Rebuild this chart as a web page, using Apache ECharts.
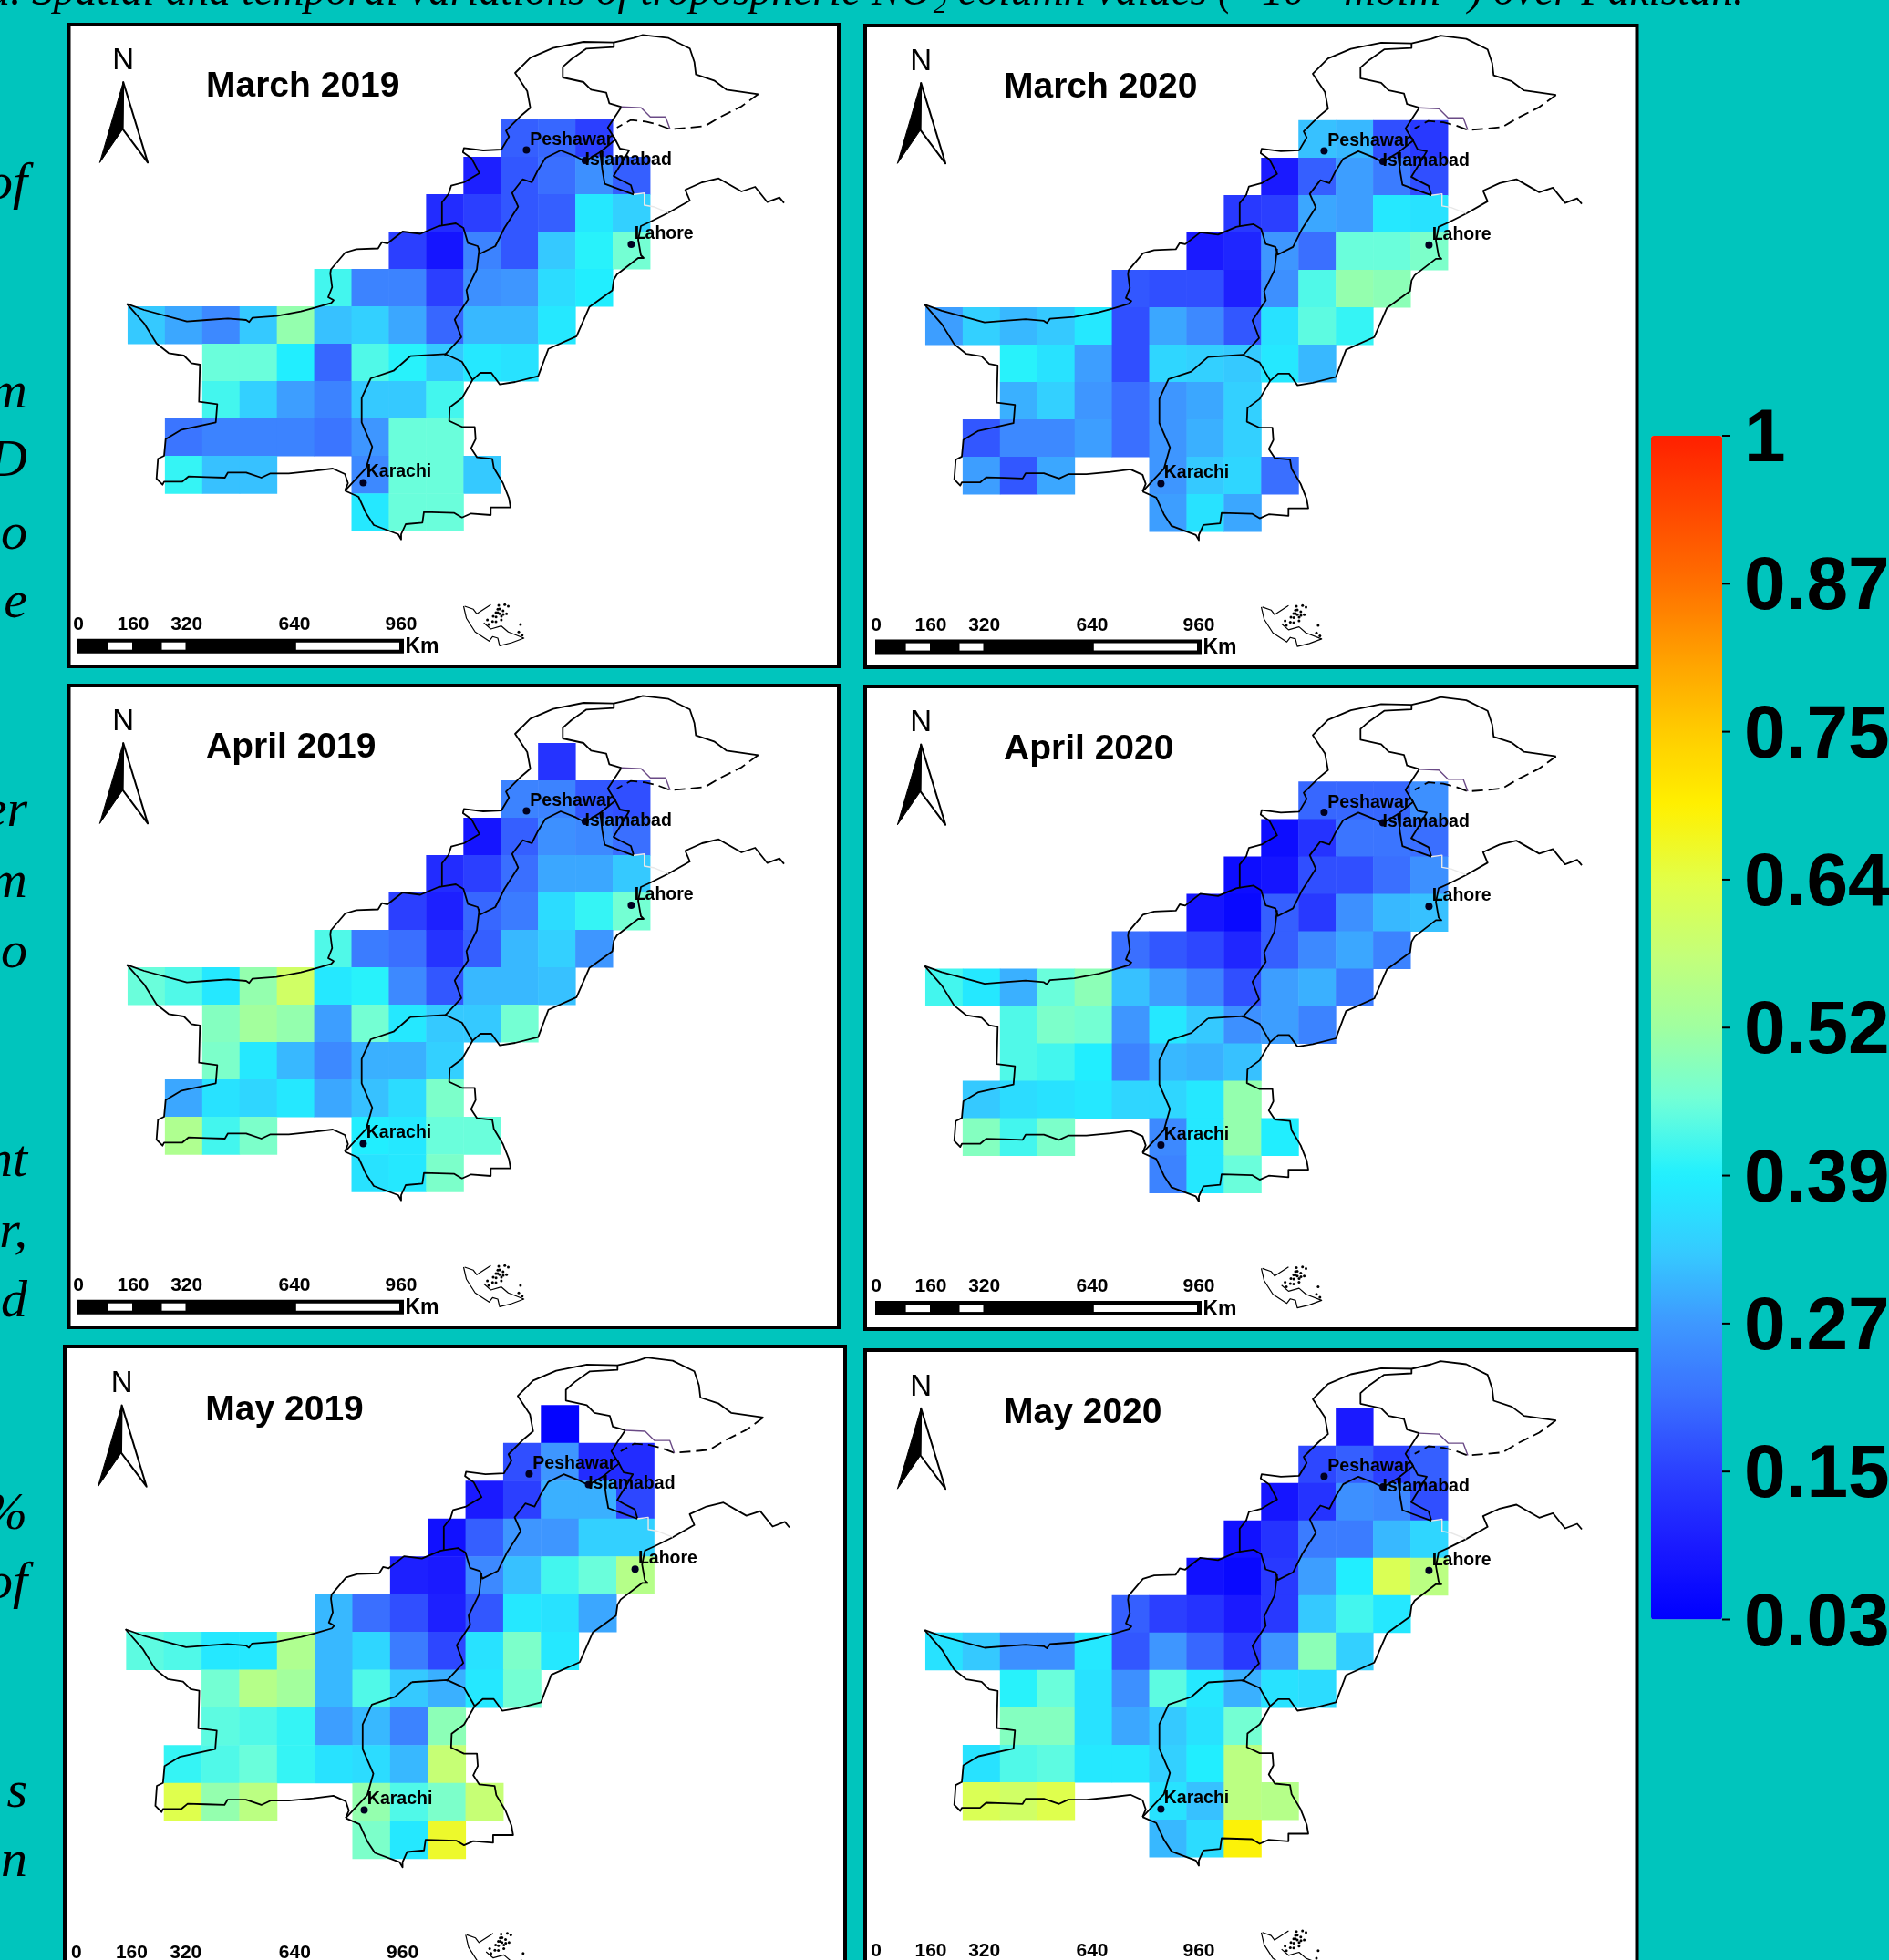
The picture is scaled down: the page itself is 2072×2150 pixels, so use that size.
<!DOCTYPE html>
<html><head><meta charset="utf-8">
<style>html,body{margin:0;padding:0;background:#00C5BD}#c{width:2072px;height:2150px}</style>
<script src="https://cdn.jsdelivr.net/npm/echarts@6/dist/echarts.min.js"></script>
</head><body><div id="c"></div>
<script>
const _ = null;
const columns = ['c0','c1','c2','c3','c4','c5','c6','c7','c8','c9','c10','c11','c12','c13'];
const rowNames = ['r0','r1','r2','r3','r4','r5','r6','r7','r8','r9','r10','r11'];
const panelTitles = ['March 2019','March 2020','April 2019','April 2020','May 2019','May 2020'];
const tickLabels = ['0.03','0.15','0.27','0.39','0.52','0.64','0.75','0.87','1'];

const march2019 = [
[_,_,_,_,_,_,_,_,_,_,_,_,_,_],
[_,_,_,_,_,_,_,_,_,_,.19,.20,.15,_],
[_,_,_,_,_,_,_,_,_,.10,.18,.21,.26,.19],
[_,_,_,_,_,_,_,_,.12,.15,.18,.19,.38,.34],
[_,_,_,_,_,_,_,.15,.08,.24,.18,.33,.40,.46],
[_,_,_,_,_,.42,.24,.24,.15,.26,.27,.36,.39,_],
[.33,.29,.25,.33,.50,.32,.34,.29,.20,.31,.31,.38,_,_],
[_,_,.45,.45,.39,.20,.43,.40,.33,.38,.37,_,_,_],
[_,_,.42,.34,.28,.24,.33,.33,.42,_,_,_,_,_],
[_,.22,.24,.24,.24,.22,.27,.45,.45,_,_,_,_,_],
[_,.41,.32,.32,_,_,.25,.45,.45,.33,_,_,_,_],
[_,_,_,_,_,_,.38,.45,.45,_,_,_,_,_]];
const march2020 = [
[_,_,_,_,_,_,_,_,_,_,_,_,_,_],
[_,_,_,_,_,_,_,_,_,_,.32,.31,.17,.14],
[_,_,_,_,_,_,_,_,_,.09,.19,.28,.23,.17],
[_,_,_,_,_,_,_,_,.14,.15,.29,.28,.38,.37],
[_,_,_,_,_,_,_,.09,.11,.27,.21,.45,.45,.47],
[_,_,_,_,_,.18,.17,.17,.10,.26,.43,.50,.49,_],
[.28,.34,.31,.33,.38,.17,.29,.25,.18,.37,.44,.41,_,_],
[_,_,.40,.37,.28,.17,.35,.34,.33,.38,.31,_,_,_],
[_,_,.30,.34,.27,.21,.27,.29,.34,_,_,_,_,_],
[_,.18,.25,.25,.28,.21,.27,.30,.34,_,_,_,_,_],
[_,.28,.18,.29,_,_,.27,.33,.35,.21,_,_,_,_],
[_,_,_,_,_,_,.28,.37,.29,_,_,_,_,_]];
const april2019 = [
[_,_,_,_,_,_,_,_,_,_,_,.13,_,_],
[_,_,_,_,_,_,_,_,_,_,.24,.24,.18,.17],
[_,_,_,_,_,_,_,_,_,.08,.19,.26,.25,.21],
[_,_,_,_,_,_,_,_,.12,.15,.21,.29,.29,.33],
[_,_,_,_,_,_,_,.15,.10,.20,.23,.36,.41,.46],
[_,_,_,_,_,.43,.23,.21,.13,.19,.31,.34,.27,_],
[.45,.43,.38,.50,.60,.38,.40,.25,.18,.31,.31,.32,_,_],
[_,_,.48,.52,.50,.28,.46,.38,.33,.33,.46,_,_,_],
[_,_,.47,.38,.31,.25,.30,.30,.34,_,_,_,_,_],
[_,.29,.37,.35,.38,.29,.32,.36,.47,_,_,_,_,_],
[_,.54,.42,.47,_,_,.39,.38,.45,.45,_,_,_,_],
[_,_,_,_,_,_,.37,.38,.47,_,_,_,_,_]];
const april2020 = [
[_,_,_,_,_,_,_,_,_,_,_,_,_,_],
[_,_,_,_,_,_,_,_,_,_,.20,.20,.20,.26],
[_,_,_,_,_,_,_,_,_,.06,.13,.22,.22,.21],
[_,_,_,_,_,_,_,_,.06,.08,.17,.17,.21,.26],
[_,_,_,_,_,_,_,.08,.05,.19,.14,.26,.31,.32],
[_,_,_,_,_,.21,.18,.16,.11,.19,.25,.29,.24,_],
[.42,.38,.30,.45,.49,.32,.28,.24,.17,.28,.30,.23,_,_],
[_,_,.43,.47,.46,.27,.38,.33,.26,.28,.24,_,_,_],
[_,_,.43,.42,.39,.24,.31,.30,.32,_,_,_,_,_],
[_,.33,.36,.37,.38,.35,.35,.38,.50,_,_,_,_,_],
[_,.48,.42,.47,_,_,.25,.38,.50,.39,_,_,_,_],
[_,_,_,_,_,_,.24,.38,.45,_,_,_,_,_]];
const may2019 = [
[_,_,_,_,_,_,_,_,_,_,_,.04,_,_],
[_,_,_,_,_,_,_,_,_,_,.17,.27,.12,.12],
[_,_,_,_,_,_,_,_,_,.09,.15,.30,.30,.16],
[_,_,_,_,_,_,_,_,.07,.19,.27,.27,.34,.34],
[_,_,_,_,_,_,_,.10,.09,.25,.32,.42,.45,.55],
[_,_,_,_,_,.31,.21,.17,.10,.18,.38,.37,.29,_],
[.44,.43,.38,.38,.54,.31,.35,.23,.16,.37,.47,.38,_,_],
[_,_,.46,.55,.52,.31,.43,.33,.30,.38,.46,_,_,_],
[_,_,.44,.43,.41,.28,.31,.24,.49,_,_,_,_,_],
[_,.41,.43,.45,.41,.37,.36,.31,.58,_,_,_,_,_],
[_,.63,.50,.56,_,_,.50,.43,.47,.58,_,_,_,_],
[_,_,_,_,_,_,.47,.38,.66,_,_,_,_,_]];
const may2020 = [
[_,_,_,_,_,_,_,_,_,_,_,.09,_,_],
[_,_,_,_,_,_,_,_,_,_,.16,.19,.15,.19],
[_,_,_,_,_,_,_,_,_,.08,.13,.26,.25,.17],
[_,_,_,_,_,_,_,_,.07,.13,.23,.23,.31,.35],
[_,_,_,_,_,_,_,.07,.05,.14,.28,.39,.62,.56],
[_,_,_,_,_,.19,.15,.13,.09,.14,.33,.42,.38,_],
[.37,.33,.26,.26,.38,.18,.27,.20,.14,.27,.49,.34,_,_],
[_,_,.40,.45,.37,.26,.44,.38,.30,.37,.36,_,_,_],
[_,_,.48,.48,.37,.29,.33,.37,.46,_,_,_,_,_],
[_,.37,.43,.44,.38,.38,.34,.39,.56,_,_,_,_,_],
[_,.62,.60,.63,_,_,.37,.32,.56,.55,_,_,_,_],
[_,_,_,_,_,_,.31,.36,.69,_,_,_,_,_]];
const panelValues = [march2019,march2020,april2019,april2020,may2019,may2020];

const colorStops = ['#0000FF','#1A1AFF','#2B40FF','#3A70FF','#3E98FF','#35CCFF','#20F0FF','#70FFD8','#A0FFA0','#C4FF78','#E2FF48','#FFF000','#FFCC00','#FFA000','#FF7000','#FF4800','#FF2000'];

// map outline, in map units
const northBorder = [[139.3,333.3],[158,340],[205,352.7],[226.7,351],[250,349.3],[270,351],[273.3,353.3],[276.7,348.7],[303.3,346.7],[330,341.7],[345,337.7],[363.3,332.3],[366,329.3],[360,326],[364.3,315],[362.3,300],[363,295.5],[378.7,277],[391,273.4],[414.7,272.5],[419,265.6],[425,267],[441.6,254],[461,256.5],[481,248],[484.8,247.3],[484.8,222],[492,212.8],[494.9,203.7],[508.9,200],[525.8,189.9],[517.3,173.8],[507.8,167],[508.9,162.3],[530,165],[550,164],[558.3,150],[555,143.3],[571.7,126.7],[581.7,118.3],[578.3,100],[565,80],[581.7,63.3],[606.7,52.7],[640,46],[673.3,46.7],[695,41.7],[705,38.3],[733.3,41.7],[756.7,53.3],[761.7,68.3],[763.3,81.7],[783.3,88.3],[796.7,98.3],[831.7,103.3]];
const gilgitLine = [[673.3,46.7],[673.3,51.7],[643.3,53.3],[626.7,65],[617.3,73.3],[617.3,85],[640,90],[648.3,98.3],[665,101.7],[668.3,113.3],[681.7,117.3]];
const kashmirWest = [[681.7,117.3],[673.3,130],[666.7,140],[675,153.3],[658.3,166.7],[660.7,186.7],[663.3,201.7],[676.7,206.7],[695,213.3]];
const kashmirInner = [[673.3,150],[680,163],[690,165],[683,177],[673,193],[680,197],[692,203],[695,213]];
const kpBorder = [[658.3,166.7],[641.7,176.7],[631.7,171.7],[615,165],[598.3,173.3],[590,186.7],[583.3,200],[573.3,196.7],[561.7,211.7],[568.3,226.7],[553.3,250],[543.3,270],[526.7,278.3],[524,270],[513.3,266.7],[508.3,250],[500,245],[484.8,247.3]];
const punjabWest = [[525.8,272],[523,295.5],[511.7,318.4],[513.4,328.5],[498.8,350.6],[506,369.9],[487.6,389.6]];
const sindhNorth = [[450,390.7],[488.3,388.3],[506.7,396.7],[518.3,416.7]];
const sindhWest = [[450,390.7],[431.7,406.7],[406.7,415],[396.7,436.7],[396.7,463.3],[408.3,490],[401.7,513.3],[378.3,538.3]];
const eastBorder = [[378.3,538.3],[393.3,545],[401.7,563.3],[410,576],[436.7,586],[440,591.7],[440,586],[445,575],[463.3,573.3],[465,561.7],[498.3,562.7],[506.7,567.7],[516.7,563.3],[538.3,565],[538.3,556.7],[560,556.7],[558.3,546.7],[551.7,530],[541.7,513.3],[540,503.3],[523.3,501.7],[516.7,491.7],[521.7,481.7],[520.7,468.3],[506.7,468.3],[492.7,461.7],[493.3,446.7],[506.7,436.7],[518.3,416.7],[527,409],[539,409],[548.2,421.7],[565,419],[590.3,412.6],[601.5,382.7],[632.4,368.9],[646.4,336.8],[671.7,318.4],[673.3,306.7],[676.7,301],[700,283],[706,283],[703,280],[700,263],[703,248],[713.3,243.3],[733.3,233.3],[756.7,220],[751.7,208.3],[770,200],[788.3,195.7],[813.3,210],[828.3,205],[841.7,221.7],[855,216.7],[860,222.7]];
const westCoast = [[378.3,538.3],[381.7,530],[378.3,520],[365,514],[343.3,516.7],[316.7,519.3],[296.7,519.3],[286.7,524],[270,518.3],[250,518.3],[246.7,524],[226.7,523.3],[206.7,522.7],[200,528.3],[180,528.3],[178.3,531.7],[171.7,525],[173.3,503.3],[180,500],[181.7,481.7],[198.3,471.7],[236.7,463.3],[238.3,443.3],[218.3,440.7],[219.3,400],[210,398.3],[201.7,390],[185,387.3],[171.7,376.7],[158.3,355],[139.3,333.3]];
const ceasefireDashed = [[831.7,103.3],[813.3,116.7],[790,128.3],[773.3,138.3],[756.7,140],[735,141.7],[721.7,136.7],[708.3,133.3],[691.7,131.7],[676.7,140]];
const purpleLine = [[681.7,117.3],[703.3,118.3],[713.3,128.3],[730,128.3],[735,141.7]];
const workingBoundary = [[695,213.3],[706.7,211.7],[706.7,225],[716.7,226.7],[733.3,233.3]];
const insetOutline = [[508.5,665],[511.6,678.3],[521.2,693.3],[536.5,703.3],[540.3,698.3],[546,700],[548,708.3],[561.3,705],[574.7,700],[557.5,693.3],[549.9,686.7],[538.4,690],[530.7,683.3]];
const insetNorth = [[509.7,665],[519.2,668.3],[523,673.3],[530.7,668.3],[538.4,663.3]];
const insetDots = [[546,668.3],[548,673.3],[544.1,676.7],[551.8,670],[553.7,663.3],[555.6,673.3],[570.9,685],[572.8,696.7],[569,693.3],[540.3,681.7],[534.6,680],[549.9,680],[557.5,665],[546,672],[550,676],[548,668],[544,672],[541,676],[552,674],[547,664],[536,685],[544,682]];

// cities and labels, in map units
const cityDots = [[577.4,164.6],[641.9,176.1],[692.4,267.9],[398.4,529.6]];
const cityLabels = [[580.8,154,'Peshawar'],[641,175.5,'Islamabad'],[695.2,256.5,'Lahore'],[401.2,517.8,'Karachi']];
const titleAnchor = [225.5,95.5];
const northLetter = [135.2,67,'N'];
const northDark = [[135.2,90],[109.4,178.4],[134.6,141.7]];
const northLight = [[135.2,90],[162.1,178.4],[134.6,141.7]];
const scaleBarBlack = [[85,708.7],[443,708.7]];
const scaleBarWhite = [[[118.6,708.7],[145,708.7]],[[177.5,708.7],[203.5,708.7]],[[324.8,708.7],[438,708.7]]];
const scaleLabels = [[86,685,'0'],[146,685,'160'],[204.7,685,'320'],[323,685,'640'],[440,685,'960']];
const scaleUnit = [444,710,'Km'];

// panel placement
const frames = [[75.5,920,27,731],[949,1795.5,28,732],[75.5,920,752,1456],[949,1795.5,753,1458],[71,927,1477,2190],[949,1795.5,1481,2190]];
const offsets = [[0,0,1],[875,.9,1],[0,725,1],[875,726.4,1],[-3.07,1450.45,1.0105],[875,1454.8,1]];
const mapCell = {x0:140.2, x1:713.2, y0:90.2, y1:582.4};

const FONT = '"Liberation Sans"';
const grid=[], xAxis=[], yAxis=[], series=[], heatIdx=[];
function line(data, g, color, width, extra){
  series.push(Object.assign({type:'line',data:data,xAxisIndex:g,yAxisIndex:g,clip:false,symbol:'none',showSymbol:false,silent:true,z:4,
    animation:false,lineStyle:{color:color,width:width,cap:'butt',join:'round'}},extra||{}));
}
function textSeries(data, g, fs, bold, pos){
  series.push({type:'scatter',data:data,xAxisIndex:g,yAxisIndex:g,clip:false,symbolSize:1,silent:true,z:6,animation:false,
    itemStyle:{color:'rgba(0,0,0,0)',opacity:1},
    label:{show:true,position:pos,distance:0,color:'#000',opacity:1,fontFamily:FONT,fontSize:fs,fontWeight:bold?'bold':'normal',formatter:p=>p.data[2]}});
}
panelValues.forEach((vals,i)=>{
  const F=frames[i], O=offsets[i], s=O[2], g=i*2, h=i*2+1;
  grid.push({show:true,outerBoundsMode:'none',left:F[0],top:F[2],width:F[1]-F[0],height:F[3]-F[2],backgroundColor:'#fff',borderColor:'#000',borderWidth:4,containLabel:false});
  xAxis.push({type:'value',gridIndex:g,show:false,min:(F[0]-O[0])/s,max:(F[1]-O[0])/s});
  yAxis.push({type:'value',gridIndex:g,show:false,inverse:true,min:(F[2]-O[1])/s,max:(F[3]-O[1])/s});
  grid.push({show:false,outerBoundsMode:'none',left:O[0]+s*mapCell.x0,top:O[1]+s*mapCell.y0,width:s*(mapCell.x1-mapCell.x0),height:s*(mapCell.y1-mapCell.y0)});
  xAxis.push({type:'category',gridIndex:h,show:false,data:columns});
  yAxis.push({type:'category',gridIndex:h,show:false,inverse:true,data:rowNames});
  const cells=[];
  vals.forEach((row,r)=>row.forEach((v,c)=>{ if(v!==null) cells.push([c,r,v]); }));
  heatIdx.push(series.length);
  series.push({type:'heatmap',data:cells,xAxisIndex:h,yAxisIndex:h,silent:true,animation:false,progressive:0,z:2,itemStyle:{borderWidth:0}});
  [northBorder,gilgitLine,kashmirWest,kashmirInner,kpBorder,punjabWest,sindhNorth,sindhWest,eastBorder,westCoast].forEach(l=>line(l,g,'#000',1.8));
  line(ceasefireDashed,g,'#000',1.8,{lineStyle:{color:'#000',width:1.8,type:[12,6]}});
  line(purpleLine,g,'#6a4a86',1.4);
  line(workingBoundary,g,'#e8e8e8',1.4);
  line(insetOutline,g,'#000',1.2);
  line(insetNorth,g,'#000',1.2);
  series.push({type:'scatter',data:insetDots,xAxisIndex:g,yAxisIndex:g,clip:false,symbolSize:3,silent:true,z:5,animation:false,itemStyle:{color:'#000',opacity:1}});
  series.push({type:'scatter',data:cityDots,xAxisIndex:g,yAxisIndex:g,clip:false,symbolSize:8,silent:true,z:5,animation:false,itemStyle:{color:'#000020',opacity:1}});
  line(scaleBarBlack,g,'#000',16);
  scaleBarWhite.forEach(w=>line(w,g,'#fff',8,{z:5}));
  textSeries(cityLabels,g,19.5,true,'right');
  textSeries(scaleLabels,g,21,true,'inside');
  textSeries([scaleUnit],g,23,true,'right');
  textSeries([[titleAnchor[0],titleAnchor[1],panelTitles[i]]],g,39,true,'right');
  textSeries([northLetter],g,33,false,'inside');
  series.push({type:'custom',coordinateSystem:'cartesian2d',xAxisIndex:g,yAxisIndex:g,data:[[northDark[0][0],northDark[0][1]]],silent:true,z:5,animation:false,clip:false,
    renderItem:(p,api)=>({type:'group',children:[
      {type:'polygon',shape:{points:northLight.map(q=>api.coord(q))},style:{fill:'#fff',stroke:'#000',lineWidth:2,lineJoin:'round'}},
      {type:'polygon',shape:{points:northDark.map(q=>api.coord(q))},style:{fill:'#000',stroke:'#000',lineWidth:1,lineJoin:'round'}}
    ]})});
});
// colour bar axis and its tick marks (labels sit slightly below their ticks)
grid.push({show:false,outerBoundsMode:'none',left:1811,top:483.5,width:78,height:1298.5});
xAxis.push({type:'value',gridIndex:12,show:false,min:0,max:1});
yAxis.push({type:'category',gridIndex:12,position:'right',boundaryGap:false,data:tickLabels,
  axisLine:{show:false},axisTick:{show:false},splitLine:{show:false},
  axisLabel:{show:true,interval:0,margin:24,color:'#000',fontFamily:FONT,fontWeight:'bold',fontSize:82,align:'left',verticalAlign:'middle'}});
series.push({type:'scatter',data:tickLabels.map(t=>[1,t]),xAxisIndex:12,yAxisIndex:12,clip:false,silent:true,animation:false,z:6,
  symbol:'rect',symbolSize:[9,2],symbolOffset:[4.5,-5.5],itemStyle:{color:'#000',opacity:1}});

const leftFragments = [['of',203],['m',432],['D',507],['o',587],['e',662],['er',891],['m',969],['o',1046],['nt',1275],['r,',1353],['d',1429],['%',1662],['of',1738],['s',1967],['n',2043]];
const headline = 'a. Spatial and temporal variations of tropospheric NO₂ column values (×10¹⁵ molm⁻²) over Pakistan.';
const graphics = [{type:'text',z:10,style:{x:1913,y:16,text:headline,align:'right',verticalAlign:'bottom',fill:'#000',font:'italic 47.6px "Liberation Serif"'}}];
leftFragments.forEach(f=>graphics.push({type:'text',z:10,style:{x:30,y:f[1],text:f[0],align:'right',verticalAlign:'middle',fill:'#000',font:'italic 58px "Liberation Serif"'}}));

const chart = echarts.init(document.getElementById('c'),null,{width:2072,height:2150,renderer:'canvas'});
chart.setOption({
  animation:false,backgroundColor:'#00C5BD',tooltip:{show:false},
  grid,xAxis,yAxis,series,graphic:graphics,
  visualMap:[{type:'continuous',min:0.03,max:1,seriesIndex:heatIdx,calculable:false,orient:'vertical',left:1811,top:478,itemWidth:78,itemHeight:1298.5,padding:0,text:null,showLabel:false,inRange:{color:colorStops},borderWidth:0,hoverLink:false}]
});
</script></body></html>
